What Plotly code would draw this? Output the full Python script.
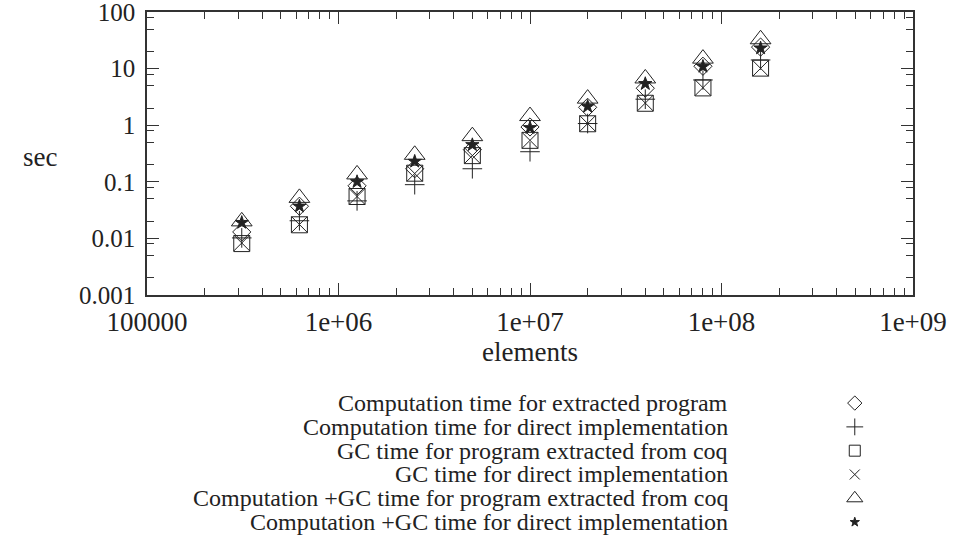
import plotly.graph_objects as go

# ---- data ----
elements = [312500, 625000, 1250000, 2500000, 5000000,
            10000000, 20000000, 40000000, 80000000, 160000000]
comp_extracted = [0.013, 0.037, 0.085, 0.17, 0.37, 0.93, 2.07, 4.5, 11.0, 24.0]
comp_direct = [0.0102, 0.0205, 0.046, 0.089, 0.17, 0.34, 1.07, 2.88, 6.3, 14.2]
gc_extracted = [0.0081, 0.0174, 0.055, 0.142, 0.29, 0.54, 1.06, 2.44, 4.56, 10.2]
gc_direct = [0.0083, 0.0176, 0.055, 0.140, 0.29, 0.54, 1.07, 2.46, 4.6, 10.1]
total_extracted = [0.020, 0.052, 0.135, 0.30, 0.64, 1.45, 2.95, 6.7, 15.0, 33.0]
total_direct = [0.019, 0.037, 0.10, 0.229, 0.45, 0.90, 2.14, 5.4, 10.9, 23.0]

series_names = [
    "Computation time for extracted program",
    "Computation time for direct implementation",
    "GC time for program extracted from coq",
    "GC time for direct implementation",
    "Computation +GC time for program extracted from coq",
    "Computation +GC time for direct implementation",
]
series_values = [comp_extracted, comp_direct, gc_extracted, gc_direct,
                 total_extracted, total_direct]

x_tickvals = [1e5, 1e6, 1e7, 1e8, 1e9]
x_ticktext = ["100000", "1e+06", "1e+07", "1e+08", "1e+09"]
y_tickvals = [0.001, 0.01, 0.1, 1, 10, 100]
y_ticktext = ["0.001", "0.01", "0.1", "1", "10", "100"]

# ---- styles ----
FONT = "Liberation Serif, DejaVu Serif, Times New Roman, serif"
INK = "#222222"
symbols = ["diamond-open", "cross-thin-open", "square-open",
           "x-thin-open", "triangle-up-open", "star"]
plot_sizes = [14, 14, 16, 16, 18, 10]
key_sizes = [11, 12, 11, 10, 14, 7]

x_minor = [m * 10 ** e for e in range(5, 9) for m in range(2, 10)]
y_minor = [m * 10 ** e for e in range(-3, 2) for m in (2, 5, 8)]

fig = go.Figure()
for name, vals, sym, sz in zip(series_names, series_values, symbols, plot_sizes):
    fig.add_trace(go.Scatter(
        x=elements, y=vals, mode="markers", name=name, showlegend=False,
        marker=dict(symbol=sym, size=sz, color=INK,
                    line=dict(color=INK, width=1)),
        xaxis="x", yaxis="y"))

# legend keys (drawn on a hidden helper axis, rows 0..5)
rows = list(range(len(series_names)))
for r, sym, sz in zip(rows, symbols, key_sizes):
    fig.add_trace(go.Scatter(
        x=[0.924], y=[r], mode="markers", showlegend=False, hoverinfo="skip",
        marker=dict(symbol=sym, size=sz, color=INK,
                    line=dict(color=INK, width=1)),
        xaxis="x2", yaxis="y2"))

annotations = []
for r, name in zip(rows, series_names):
    annotations.append(dict(text=name, xref="paper", yref="y2", x=0.761, y=r,
                            xanchor="right", yanchor="middle", showarrow=False,
                            font=dict(family=FONT, size=24, color=INK)))
annotations.append(dict(text="sec", xref="paper", yref="paper", x=-0.1397, y=0.722,
                        xanchor="center", yanchor="middle", showarrow=False,
                        font=dict(family=FONT, size=27, color=INK)))
annotations.append(dict(text="elements", xref="paper", yref="paper", x=0.5, y=0.3487,
                        xanchor="center", yanchor="middle", showarrow=False,
                        font=dict(family=FONT, size=27, color=INK)))

axis_common = dict(showline=True, mirror="ticks", linecolor="#333333", linewidth=1.5,
                   ticks="inside", ticklen=12, tickwidth=1, tickcolor="#333333",
                   showgrid=False, zeroline=False, automargin=False,
                   ticklabeloverflow="allow")

fig.update_layout(
    width=959, height=554,
    margin=dict(l=147, r=46, t=12, b=20, autoexpand=False),
    paper_bgcolor="white", plot_bgcolor="white",
    font=dict(family=FONT, color=INK),
    xaxis=dict(type="log", range=[5, 9], domain=[0, 1], anchor="y",
               tickmode="array", tickvals=x_tickvals, ticktext=x_ticktext,
               ticklabelstandoff=2,
               tickfont=dict(family=FONT, size=27, color=INK),
               minor=dict(ticks="inside", ticklen=7, tickwidth=1, tickcolor="#333333",
                          tickmode="array", tickvals=x_minor, showgrid=False),
               **axis_common),
    yaxis=dict(type="log", range=[-3, 2], domain=[0.45785, 1], anchor="x",
               tickmode="array", tickvals=y_tickvals, ticktext=y_ticktext,
               ticklabelstandoff=5,
               tickfont=dict(family=FONT, size=25, color=INK),
               minor=dict(ticks="inside", ticklen=7, tickwidth=1, tickcolor="#333333",
                          tickmode="array", tickvals=y_minor, showgrid=False),
               **axis_common),
    xaxis2=dict(domain=[0, 1], range=[0, 1], visible=False, anchor="y2"),
    yaxis2=dict(domain=[0, 0.45785], range=[5.5, -4.54], visible=False, anchor="x2"),
    annotations=annotations,
)

fig.write_html("out.html",
               config={"displayModeBar": False},
               post_script="document.body.style.margin='0px';document.body.style.overflow='hidden';")
